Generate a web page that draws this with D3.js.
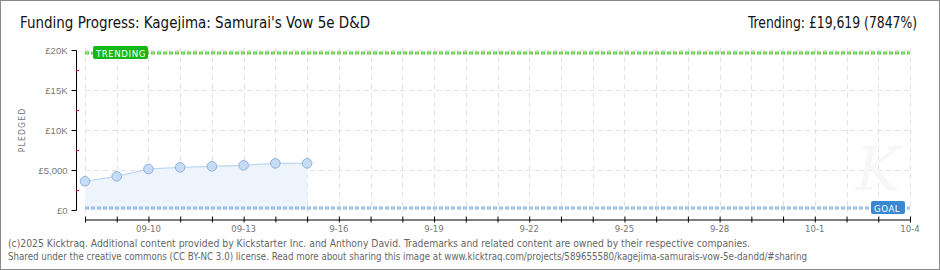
<!DOCTYPE html>
<html><head><meta charset="utf-8">
<script src="https://cdn.jsdelivr.net/npm/d3@7"></script>
<style>
body{margin:0;background:#fff;}
svg{display:block;font-family:"DejaVu Sans Condensed","DejaVu Sans",sans-serif;}
</style></head>
<body>
<script>
const dates = ["2025-09-08","2025-09-09","2025-09-10","2025-09-11","2025-09-12","2025-09-13","2025-09-14","2025-09-15"];
const pledged = [3590, 4210, 5125, 5330, 5460, 5580, 5830, 5840];
const trending = 19619;
const goal = 250;
const yTicks = [0, 5000, 10000, 15000, 20000];
const yTickLabels = ["£0", "£5,000", "£10K", "£15K", "£20K"];
const xLabelDates = ["2025-09-10","2025-09-13","2025-09-16","2025-09-19","2025-09-22","2025-09-25","2025-09-28","2025-10-01","2025-10-04"];
const xLabels = ["09-10","09-13","9-16","9-19","9-22","9-25","9-28","10-1","10-4"];
const title = "Funding Progress: Kagejima: Samurai's Vow 5e D&D";
const trendText = "Trending:  £19,619 (7847%)";
const footer1 = "(c)2025 Kicktraq. Additional content provided by Kickstarter Inc. and Anthony David. Trademarks and related content are owned by their respective companies.";
const footer2 = "Shared under the creative commons (CC BY-NC 3.0) license. Read more about sharing this image at www.kicktraq.com/projects/589655580/kagejima-samurais-vow-5e-dandd/#sharing";

const W = 940, H = 270;
const parse = d3.utcParse("%Y-%m-%d");
const svg = d3.select("body").append("svg").attr("width", W).attr("height", H);

svg.append("rect").attr("x",0.5).attr("y",0.5).attr("width",W-1).attr("height",H-1)
  .attr("fill","#fff").attr("stroke","#8a8a8a");

const x = d3.scaleUtc().domain([parse("2025-09-08"), parse("2025-10-04")]).range([85, 910]);
const y = d3.scaleLinear().domain([0, 20000]).range([210, 50]);

// grid
const days = d3.utcDay.range(parse("2025-09-08"), d3.utcDay.offset(parse("2025-10-04"),1));
svg.append("g").selectAll("line").data(days).join("line")
  .attr("x1", d=>Math.round(x(d))+0.5).attr("x2", d=>Math.round(x(d))+0.5)
  .attr("y1", 48).attr("y2", 212)
  .attr("stroke","#e2e2e2").attr("stroke-dasharray","5,4");
svg.append("g").selectAll("line").data(yTicks.slice(1)).join("line")
  .attr("x1", 85).attr("x2", 910)
  .attr("y1", d=>Math.round(y(d))+0.5).attr("y2", d=>Math.round(y(d))+0.5)
  .attr("stroke","#e2e2e2").attr("stroke-dasharray","5,4");

// watermark
svg.append("text").attr("x", 878).attr("y", 190).attr("text-anchor","middle")
  .attr("font-size", 60).attr("font-style","italic").attr("fill","#f7f7f7")
  .attr("font-family","DejaVu Serif").text("K");

// area & line
const pts = dates.map((d,i)=>({d:parse(d), v:pledged[i]}));
svg.append("path").datum(pts)
  .attr("d", d3.area().x(p=>x(p.d)).y0(y(0)).y1(p=>y(p.v)))
  .attr("fill","#edf4fc");
svg.append("path").datum(pts)
  .attr("d", d3.line().x(p=>x(p.d)).y(p=>y(p.v)))
  .attr("fill","none").attr("stroke","#bcd6f2").attr("stroke-width",1.2);

// trending line
svg.append("line").attr("x1",85).attr("x2",910).attr("y1",y(trending)).attr("y2",y(trending))
  .attr("stroke","#62c94a").attr("stroke-width",3).attr("stroke-dasharray","4,2");
svg.append("line").attr("x1",85).attr("x2",910).attr("y1",y(trending)).attr("y2",y(trending))
  .attr("stroke","#b5eaa6").attr("stroke-width",1).attr("stroke-dasharray","2,4").attr("stroke-dashoffset",-1);
// goal line
svg.append("line").attr("x1",85).attr("x2",910).attr("y1",y(goal)).attr("y2",y(goal))
  .attr("stroke","#8db5e4").attr("stroke-width",3).attr("stroke-dasharray","4,2");
svg.append("line").attr("x1",85).attr("x2",910).attr("y1",y(goal)).attr("y2",y(goal))
  .attr("stroke","#cfe0f5").attr("stroke-width",1).attr("stroke-dasharray","2,4").attr("stroke-dashoffset",-1);

// points
svg.append("g").selectAll("circle").data(pts).join("circle")
  .attr("cx", p=>x(p.d)).attr("cy", p=>y(p.v)).attr("r",4.8)
  .attr("fill","#c4dcf6").attr("stroke","#94b2d6").attr("stroke-width",1);

// labels TRENDING / GOAL
const tg = svg.append("g");
tg.append("rect").attr("x",93).attr("y",y(trending)-7).attr("width",55).attr("height",13).attr("rx",2)
  .attr("fill","#14b814");
tg.append("text").attr("x",96).attr("y",y(trending)+3.5).attr("font-size",9.5).attr("fill","#fff")
  .attr("letter-spacing",0.6).text("TRENDING");
const gg = svg.append("g");
gg.append("rect").attr("x",871).attr("y",y(goal)-7).attr("width",34).attr("height",13).attr("rx",2)
  .attr("fill","#3a87d4");
gg.append("text").attr("x",874).attr("y",y(goal)+3.5).attr("font-size",9.5).attr("fill","#fff")
  .attr("letter-spacing",0.6).text("GOAL");

// y axis
const yAxis = d3.axisLeft(y).tickValues(yTicks).tickSize(5).tickFormat((d,i)=>yTickLabels[i]);
const ya = svg.append("g").attr("transform","translate(76.5,0)").call(yAxis);
ya.select(".domain").attr("stroke","#000").attr("d","M0,50.5V210.5");
ya.selectAll(".tick line").attr("stroke","#000").attr("x1",0).attr("x2",-5);
ya.selectAll(".tick text").attr("font-size",9.5).attr("fill","#777").attr("x",-9);
svg.append("g").selectAll("line").data([2500,7500,12500,17500]).join("line")
  .attr("x1",76).attr("x2",79).attr("y1",d=>Math.round(y(d))+0.5).attr("y2",d=>Math.round(y(d))+0.5)
  .attr("stroke","#e00000");
svg.append("text").attr("transform","translate(25,130) rotate(-90)").attr("text-anchor","middle")
  .attr("font-size",8.5).attr("fill","#777").attr("letter-spacing",1.2).text("PLEDGED");

// x axis
const xa = svg.append("g").attr("transform","translate(0,219.5)")
  .call(d3.axisBottom(x).tickValues(days).tickSize(4).tickFormat(""));
xa.select(".domain").attr("stroke","#000").attr("d","M85,0.5H910.5");
xa.selectAll(".tick line").attr("stroke","#000").attr("y1",-3).attr("y2",3);
svg.append("g").selectAll("text").data(xLabelDates).join("text")
  .attr("x", (d)=>x(parse(d))).attr("y",232).attr("text-anchor","middle")
  .attr("font-size",9.5).attr("fill","#777").text((d,i)=>xLabels[i]);

// title
svg.append("text").attr("x",20).attr("y",28).attr("font-size",15).attr("fill","#111")
  .attr("textLength",350).attr("lengthAdjust","spacingAndGlyphs").text(title);
svg.append("text").attr("x",748).attr("y",28).attr("font-size",15).attr("fill","#111")
  .attr("textLength",169).attr("lengthAdjust","spacingAndGlyphs").text(trendText);

// footer
svg.append("text").attr("x",8).attr("y",247).attr("font-size",9.8).attr("fill","#666")
  .attr("textLength",742).attr("lengthAdjust","spacingAndGlyphs").text(footer1);
svg.append("text").attr("x",8).attr("y",260).attr("font-size",9.8).attr("fill","#666")
  .attr("textLength",799).attr("lengthAdjust","spacingAndGlyphs").text(footer2);
</script>
</body></html>
